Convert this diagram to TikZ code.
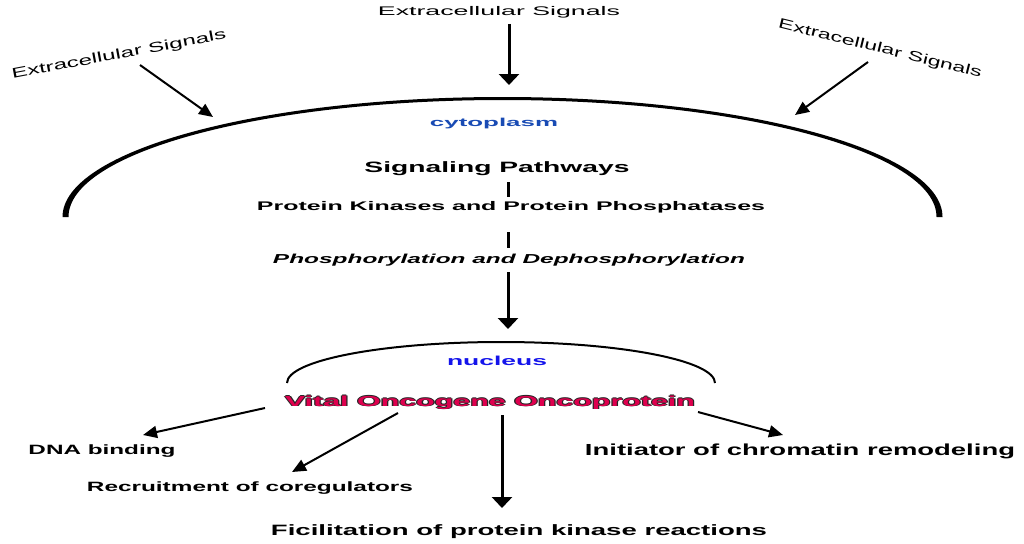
\documentclass[tikz,border=0pt]{standalone}
\usepackage{fontspec}
\setmainfont{Liberation Sans}
\usepackage{graphicx}
\usetikzlibrary{arrows.meta}
\definecolor{cytoblue}{RGB}{25,75,180}
\definecolor{nucblue}{RGB}{20,20,235}
\definecolor{vital}{RGB}{222,0,78}
\newcommand{\fw}[3]{\fontsize{#1}{#1}\selectfont\resizebox{#2pt}{\height}{#3}}
\newcommand{\olt}[1]{\leavevmode
  \rlap{\kern-0.6pt\textcolor{black!85}{#1}}%
  \rlap{\kern0.6pt\textcolor{black!85}{#1}}%
  \rlap{\raisebox{0.6pt}{\textcolor{black!85}{#1}}}%
  \rlap{\raisebox{-0.6pt}{\textcolor{black!85}{#1}}}%
  \textcolor{vital}{#1}}
\tikzset{
  lbl/.style={inner sep=0pt, anchor=base},
  varrow/.style={line width=3pt, -{Triangle[length=11pt,width=20pt]}},
  darrow/.style={line width=2pt, -{Triangle[length=14pt,width=12pt]}},
  seg/.style={line width=3pt},
}
\begin{document}
\begin{tikzpicture}[x=1pt,y=-1pt]
\useasboundingbox (0,0) rectangle (1024,543);
\fill[white] (0,0) rectangle (1024,543);

% texts
\node[lbl] (ectop) at (499,16) {\fw{12.5}{242}{Extracellular Signals}};
\node[inner sep=0pt, rotate=10.6] (ecleft) at (119,55) {\fw{14}{218}{Extracellular Signals}};
\node[inner sep=0pt, rotate=-13.8] (ecright) at (880,49) {\fw{14}{209}{Extracellular Signals}};

\node[lbl] (cyto) at (494,126) {\fw{11.5}{128}{\bfseries\textcolor{cytoblue}{cytoplasm}}};
\node[lbl] (sig) at (497,172) {\fw{15}{265}{\bfseries Signaling Pathways}};
\node[lbl] (pk) at (511,210) {\fw{12.5}{508}{\bfseries Protein Kinases and Protein Phosphatases}};
\node[lbl] (phos) at (509,263) {\fw{13}{472}{\bfseries\itshape Phosphorylation and Dephosphorylation}};

\node[lbl] (nuc) at (497,365) {\fw{13}{100}{\bfseries\textcolor{nucblue}{nucleus}}};
\node[lbl] (vital) at (490,406) {\fw{14.5}{410}{\bfseries\olt{Vital Oncogene Oncoprotein}}};

\node[lbl] (dna) at (102,454) {\fw{13.5}{147}{\bfseries DNA binding}};
\node[lbl] (rec) at (250,491) {\fw{13.5}{326}{\bfseries Recruitment of coregulators}};
\node[lbl] (fic) at (519,535) {\fw{15}{496}{\bfseries Ficilitation of protein kinase reactions}};
\node[lbl] (ini) at (800,455) {\fw{16}{430}{\bfseries Initiator of chromatin remodeling}};

% cytoplasm membrane (tapered arc)
\fill[black] (62.5,217) arc[start angle=180,end angle=0,x radius=440pt,y radius=120pt]
  -- (936.5,217) arc[start angle=0,end angle=180,x radius=434pt,y radius=117pt] -- cycle;

% nucleus envelope
\draw[line width=2pt] (287,383) arc[start angle=180,end angle=0,x radius=214pt,y radius=41pt];

% connector coordinates
\coordinate (a1s) at (509,24);  \coordinate (a1e) at (509,85);
\coordinate (a2s) at (140,65);  \coordinate (a2e) at (213,117);
\coordinate (a3s) at (868,62);  \coordinate (a3e) at (795,115);
\coordinate (s1s) at (508,182); \coordinate (s1e) at (508,197);
\coordinate (s2s) at (508,232); \coordinate (s2e) at (508,248);
\coordinate (a4s) at (508,272); \coordinate (a4e) at (508,329);
\coordinate (b1s) at (265,408); \coordinate (b1e) at (143,435);
\coordinate (b2s) at (398,413); \coordinate (b2e) at (292,472);
\coordinate (b3s) at (502,415); \coordinate (b3e) at (502,508);
\coordinate (b4s) at (698,412); \coordinate (b4e) at (783,435);

\draw[varrow] (a1s) -- (a1e);
\draw[darrow] (a2s) -- (a2e);
\draw[darrow] (a3s) -- (a3e);
\draw[seg] (s1s) -- (s1e);
\draw[seg] (s2s) -- (s2e);
\draw[varrow] (a4s) -- (a4e);
\draw[darrow] (b1s) -- (b1e);
\draw[darrow] (b2s) -- (b2e);
\draw[varrow] (b3s) -- (b3e);
\draw[darrow] (b4s) -- (b4e);
\end{tikzpicture}
\end{document}
